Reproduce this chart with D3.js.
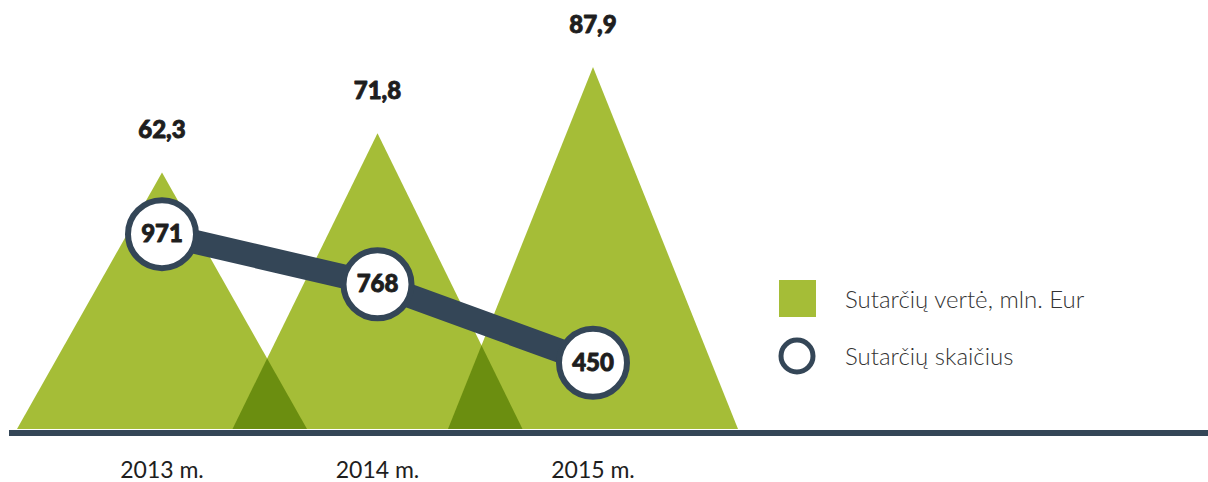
<!DOCTYPE html>
<html>
<head>
<meta charset="utf-8">
<script src="https://cdn.jsdelivr.net/npm/d3@7"></script>
<style>
  html, body { margin: 0; padding: 0; background: #fff; }
  svg { display: block; }
</style>
</head>
<body>
<svg id="chart"></svg>
<script>
const YEARS = ['2013 m.', '2014 m.', '2015 m.'];
const VALUES = [62.3, 71.8, 87.9];
const COUNTS = [971, 768, 450];
const LEGEND_LABELS = ['Sutarčių vertė, mln. Eur', 'Sutarčių skaičius'];

const WIDTH = 1208;
const HEIGHT = 482;
const BASE_Y = 429;
const HALF_BASE = 145;
const COLORS = { green: '#a5bd37', dark: '#6b8e10', navy: '#344657', text: '#1e1e1e' };

const fmt = (v) => d3.format('.1f')(v).replace('.', ',');

const svg = d3.select('#chart').attr('width', WIDTH).attr('height', HEIGHT);

const x = d3.scalePoint(YEARS, [162, 593]);
const y = d3.scaleLinear([0, 87.9], [BASE_Y, 67]);
const yCount = d3.scaleLinear([0, 1000], [474, 227]);

const trianglePath = (d, i) =>
  d3.line()([
    [x(YEARS[i]) - HALF_BASE, BASE_Y],
    [x(YEARS[i]), y(d)],
    [x(YEARS[i]) + HALF_BASE, BASE_Y],
  ]) + 'Z';

// heavy label text, a thin stroke fattens the glyphs a bit
const boldLabel = (sel) =>
  sel
    .attr('text-anchor', 'middle')
    .attr('font-family', 'Lato, sans-serif')
    .attr('font-weight', 900)
    .attr('font-size', 24)
    .attr('fill', COLORS.text)
    .attr('stroke', COLORS.text)
    .attr('stroke-width', 0.9)
    .attr('stroke-linejoin', 'round');

// triangles
const defs = svg.append('defs');
defs
  .selectAll('clipPath')
  .data(VALUES)
  .join('clipPath')
  .attr('id', (d, i) => `tri-${i}`)
  .append('path')
  .attr('d', trianglePath);

svg
  .append('g')
  .selectAll('path')
  .data(VALUES)
  .join('path')
  .attr('d', trianglePath)
  .attr('fill', COLORS.green);

// darker overlap between neighbours
svg
  .append('g')
  .selectAll('path')
  .data(VALUES.slice(0, -1))
  .join('path')
  .attr('d', trianglePath)
  .attr('clip-path', (d, i) => `url(#tri-${i + 1})`)
  .attr('fill', COLORS.dark);

// value labels above peaks
svg
  .append('g')
  .selectAll('text')
  .data(VALUES)
  .join('text')
  .attr('x', (d, i) => x(YEARS[i]))
  .attr('y', (d) => y(d) - 34)
  .call(boldLabel)
  .text(fmt);

// baseline
svg
  .append('rect')
  .attr('x', 9)
  .attr('y', 430)
  .attr('width', WIDTH - 9)
  .attr('height', 6)
  .attr('fill', COLORS.navy);

// year labels
svg
  .append('g')
  .selectAll('text')
  .data(YEARS)
  .join('text')
  .attr('x', (d) => x(d))
  .attr('y', 478)
  .attr('text-anchor', 'middle')
  .attr('font-family', 'Lato, sans-serif')
  .attr('font-size', 23)
  .attr('fill', COLORS.text)
  .text((d) => d);

// count line + circles
const countPoints = COUNTS.map((c, i) => [x(YEARS[i]), yCount(c)]);
svg
  .append('path')
  .attr('d', d3.line()(countPoints))
  .attr('fill', 'none')
  .attr('stroke', COLORS.navy)
  .attr('stroke-width', 24);

const nodes = svg
  .append('g')
  .selectAll('g')
  .data(COUNTS)
  .join('g')
  .attr('transform', (d, i) => `translate(${x(YEARS[i])}, ${yCount(d)})`);

nodes.append('circle').attr('r', 34).attr('fill', '#fff').attr('stroke', COLORS.navy).attr('stroke-width', 6);

nodes
  .append('text')
  .attr('y', 8)
  .call(boldLabel)
  .text((d) => d);

// legend
const legend = svg.append('g').attr('transform', 'translate(779, 280)');
legend.append('rect').attr('width', 37).attr('height', 37).attr('fill', COLORS.green);
legend
  .append('circle')
  .attr('cx', 18)
  .attr('cy', 76)
  .attr('r', 16)
  .attr('fill', '#fff')
  .attr('stroke', COLORS.navy)
  .attr('stroke-width', 5);

legend
  .selectAll('text')
  .data(LEGEND_LABELS)
  .join('text')
  .attr('x', 66)
  .attr('y', (d, i) => 28 + i * 57)
  .attr('font-family', 'Lato, sans-serif')
  .attr('font-weight', 300)
  .attr('font-size', 24)
  .attr('fill', '#333')
  .text((d) => d);
</script>
</body>
</html>
